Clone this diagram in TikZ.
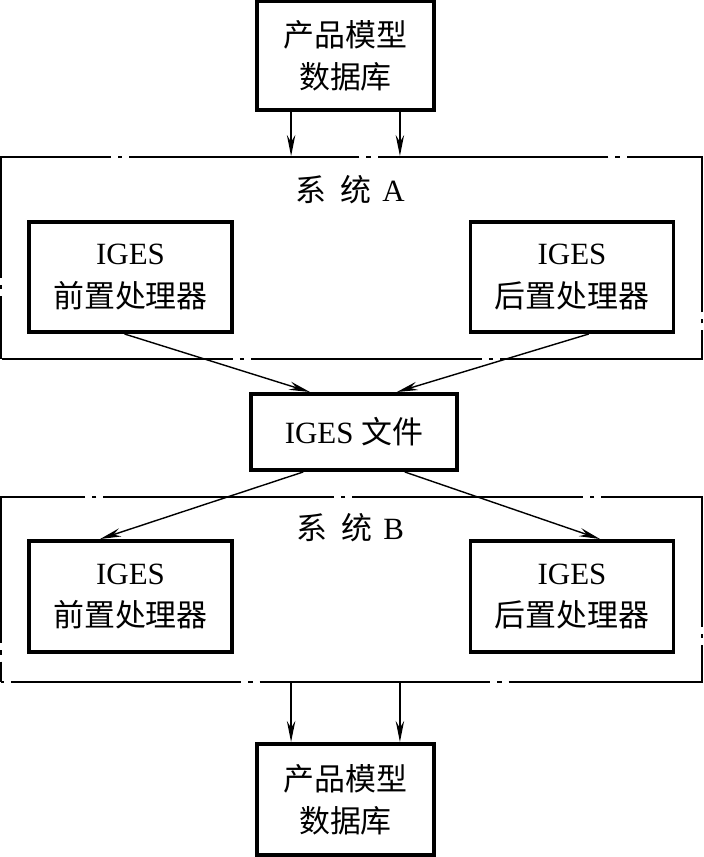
\documentclass[tikz,border=0pt]{standalone}
\usepackage{fontspec}
\setmainfont{Liberation Serif}
\newfontfamily\cjk{Noto Sans CJK SC}
\usepackage{tikz}
\usetikzlibrary{arrows.meta}
\usetikzlibrary{positioning}
\tikzset{
    dbbox/.style={
           rectangle,
           draw=black, line width=2.8pt,
           align=center,
           minimum width=4.425cm,
           minimum height=2.725cm,
           },
    procbox/.style={
           rectangle,
           draw=black, line width=2.8pt,
           align=center,
           minimum width=5.075cm,
           minimum height=2.75cm,
           },
    sysbox/.style={
           rectangle,
           draw=black, line width=1.3pt,
           dash pattern=on 164pt off 5pt on 3pt off 5pt,
           minimum width=17.525cm,
           },
    flow/.style={
           -{Stealth[length=15pt,width=6pt,inset=5pt]},
           line width=1pt,
           },
}

\begin{document}
\begin{tikzpicture}[x=0.025cm,y=-0.025cm,font=\fontsize{22pt}{30pt}\selectfont]
\useasboundingbox (0,0) rectangle (704,857);
% outer systems
\node[sysbox, dash phase=176pt, minimum height=5.05cm] (sysA) at (351.5,258) {};
\node[sysbox, dash phase=170pt, minimum height=4.625cm] (sysB) at (351.5,589.5) {};
\node (labA) at (350,190) {{\cjk 系\hspace{10pt}统}\hspace{8pt}A};
\node (labB) at (350,528) {{\cjk 系\hspace{10pt}统}\hspace{8pt}B};
% databases
\node[dbbox] (dbtop) at (345.5,55.5) {{\cjk 产品模型}\\{\cjk 数据库}};
\node[dbbox, minimum height=2.775cm] (dbbot) at (345.5,799.5) {{\cjk 产品模型}\\{\cjk 数据库}};
% processors
\node[procbox] (preA) at (130.5,277) {IGES\\{\cjk 前置处理器}};
\node[procbox] (postA) at (572,277) {IGES\\{\cjk 后置处理器}};
\node[procbox, minimum height=2.775cm] (preB) at (130.5,596.5) {IGES\\{\cjk 前置处理器}};
\node[procbox, minimum height=2.775cm] (postB) at (572,596.5) {IGES\\{\cjk 后置处理器}};
% file
\node[procbox, minimum width=5.15cm, minimum height=1.9cm] (file) at (354,432) {IGES {\cjk 文件}};
% connectors
\draw[flow] ([xshift=-1.36cm]dbtop.south) -- ([xshift=-1.36cm]dbtop.south |- sysA.north);
\draw[flow] ([xshift=1.36cm]dbtop.south) -- ([xshift=1.36cm]dbtop.south |- sysA.north);
\draw[flow] ([xshift=-0.15cm]preA.south) -- ([xshift=-1.1cm]file.north);
\draw[flow] ([xshift=0.42cm]postA.south) -- ([xshift=1.07cm]file.north);
\draw[flow] ([xshift=-1.27cm]file.south) -- ([xshift=-0.76cm]preB.north);
\draw[flow] ([xshift=1.27cm]file.south) -- ([xshift=0.7cm]postB.north);
\draw[flow] ([xshift=-1.36cm]dbbot.north |- sysB.south) -- ([xshift=-1.36cm]dbbot.north);
\draw[flow] ([xshift=1.36cm]dbbot.north |- sysB.south) -- ([xshift=1.36cm]dbbot.north);
\end{tikzpicture}
\end{document}
